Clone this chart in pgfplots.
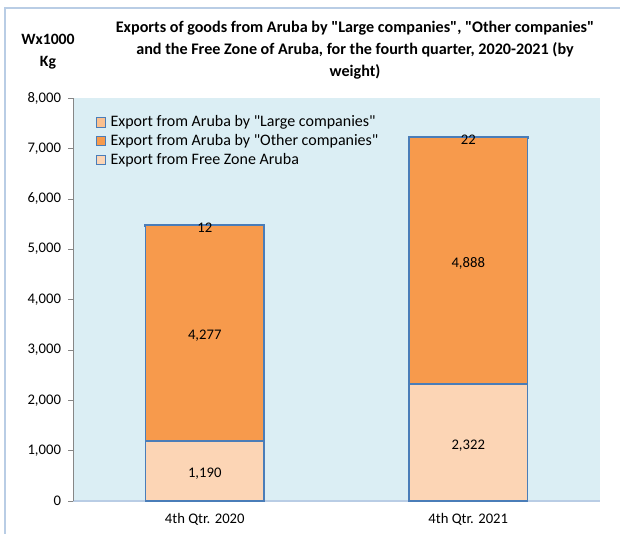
\documentclass[border=0pt]{standalone}
\usepackage{pgfplots}
\pgfplotsset{compat=1.18}
\usepackage{fontspec}
\setmainfont{Carlito}
\newfontfamily\carl{Carlito}
\newcommand\dq{{\carl\char34}}
\definecolor{bgc}{HTML}{DBEEF4}
\definecolor{freez}{HTML}{FCD5B5}
\definecolor{other}{HTML}{F79A4C}
\definecolor{large}{HTML}{FAC090}
\definecolor{bord}{HTML}{4A7DB8}
\definecolor{frame}{HTML}{B9CDE5}
\definecolor{axgray}{HTML}{868686}
\pgfplotsset{
  centered nodes/.style={
    nodes near coords,
    point meta=rawy,
    every node near coord/.append style={
      anchor=center,
      font=\fontsize{11}{13}\selectfont,
      text=black,
      yshift=-2pt,
    },
  },
}
\begin{document}
\begin{tikzpicture}
\useasboundingbox (0,0) rectangle (465pt,399.75pt);
\fill[white] (0,0) rectangle (465pt,399.75pt);
\draw[frame, line width=1pt] (3.75pt,-2pt) -- (3.75pt,393.75pt) -- (470pt,393.75pt);
\node[font=\bfseries\fontsize{12.1}{16.5}\selectfont, align=center] at (266.25pt,361.75pt)
  {Exports of goods from Aruba by \dq Large companies\dq, \dq Other companies\dq\\
   and the Free Zone of Aruba, for the fourth quarter, 2020-2021 (by\\
   weight)};
\node[font=\bfseries\fontsize{11.8}{17}\selectfont, align=center] at (36pt,361pt) {Wx1000\\Kg};
\begin{axis}[
  at={(54.75pt,24pt)}, anchor=south west,
  scale only axis, width=395.25pt, height=302.25pt,
  ybar stacked, bar width=0.45,
  xmin=-0.5, xmax=1.5, ymin=0, ymax=8000,
  enlargelimits=false,
  axis background/.style={fill=bgc},
  axis x line*=bottom, axis y line*=left,
  x axis line style={frame, line width=1pt, -},
  y axis line style={axgray, -},
  xtick={0,1}, xticklabels={4th Qtr. 2020, 4th Qtr. 2021},
  major x tick style={draw=none},
  ytick={0,1000,...,8000},
  tick align=outside,
  major tick length=3.5pt,
  y tick style={axgray},
  ticklabel style={font=\fontsize{11}{13}\selectfont},
  y tick label style={xshift=-2pt},
  x tick label style={font=\fontsize{11}{13}\selectfont, yshift=-2pt},
  /pgf/number format/1000 sep={,},
  /pgf/number format/assume math mode=true,
  legend style={at={(0.035,0.97)}, anchor=north west, draw=none, fill=none,
    font=\fontsize{12}{13}\selectfont, row sep=0.2pt,
    /tikz/every even column/.append style={column sep=2pt}},
  legend cell align=left,
  reverse legend,
  legend image code/.code={\draw[#1, draw=bord, line width=0.6pt] (0pt,-3.5pt) rectangle (7pt,3.5pt);},
]
\addplot[fill=freez, draw=bord, line width=1pt, centered nodes] coordinates {(0,1190) (1,2322)};
\addlegendentry{\hspace{1.5pt}Export from Free Zone Aruba}
\addplot[fill=other, draw=bord, line width=1pt, centered nodes] coordinates {(0,4277) (1,4888)};
\addlegendentry{\hspace{1.5pt}Export from Aruba by \dq Other companies\dq}
\addplot[fill=large, draw=bord, line width=1.5pt, centered nodes] coordinates {(0,12) (1,22)};
\addlegendentry{\hspace{1.5pt}Export from Aruba by \dq Large companies\dq}
\end{axis}
\end{tikzpicture}
\end{document}
